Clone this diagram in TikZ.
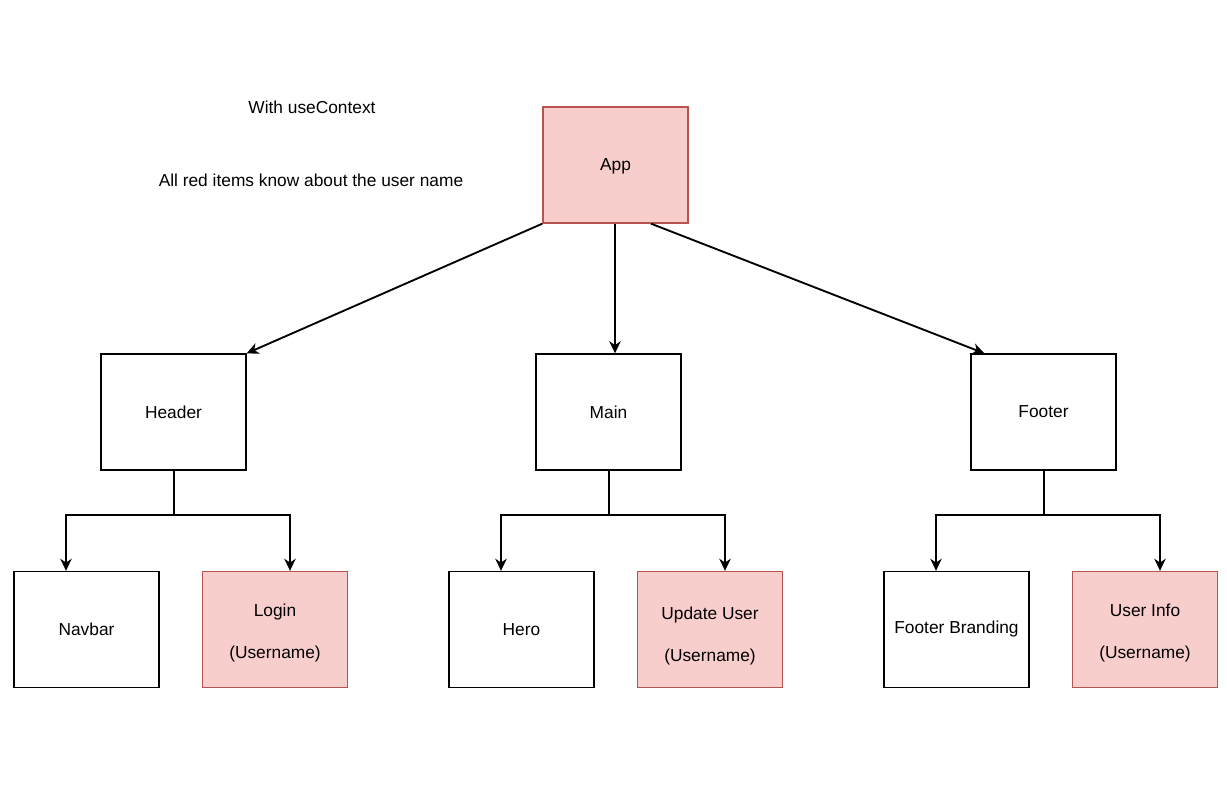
\documentclass[tikz,border=0pt]{standalone}
\usepackage{fontspec}
\setmainfont{Liberation Sans}
\usetikzlibrary{arrows.meta,calc}
\definecolor{redfill}{HTML}{F8CECC}
\definecolor{redline}{HTML}{B85450}
\tikzset{
  box/.style={draw=black, line width=1pt, fill=white, minimum width=108.75pt,
    minimum height=87pt, inner sep=0pt, align=center,
    font=\fontsize{13}{15.6}\selectfont},
  redbox/.style={box, draw=redline, fill=redfill},
  arr/.style={line width=1.4pt, -{Stealth[length=9pt,width=8.5pt,inset=2.8pt]}},
  stem/.style={line width=1.4pt},
  note/.style={font=\fontsize{13}{15.6}\selectfont, inner sep=0pt},
}
\newcommand{\topgap}[1]{\rule{0pt}{#1}}
\begin{document}
\begin{tikzpicture}[x=0.75pt,y=-0.75pt]
\useasboundingbox (0,0) rectangle (1227,805);

% notes
\node[note] (t1) at (312,107) {With useContext};
\node[note] (t2) at (311,180) {All red items know about the user name};

% top level
\node[redbox, text depth=0pt] (app) at (615.5,165) {App};

% second level
\node[box] (header) at (173.5,412) {Header};
\node[box] (main) at (608.5,412) {Main};
\node[box] (footer) at (1043.5,412) {Footer};

% leaves
\node[box] (navbar) at (86.5,629.5) {Navbar};
\node[redbox] (login) at (275,629.5) {\topgap{15pt}Login\\[16pt](Username)};
\node[box] (hero) at (521.5,629.5) {Hero};
\node[redbox] (update) at (710,629.5) {\topgap{19.5pt}Update User\\[16pt](Username)};
\node[box] (branding) at (956.5,629.5) {Footer Branding};
\node[redbox] (userinfo) at (1145,629.5) {\topgap{15pt}User Info\\[16pt](Username)};

% App to second level
\coordinate (app-out) at ($(app.south)+(-0.5,0)$);
\draw[arr] (app.south west) -- (header.north east);
\draw[arr] (app-out) -- (app-out |- main.north);
\draw[arr] ($(app.south)+(35.5,0)$) -- ($(footer.north west)+(14,0)$);

% second level to leaves
\foreach \p/\l/\r in {header/navbar/login, main/hero/update, footer/branding/userinfo}{
  \coordinate (\p-out) at ($(\p.south)+(0.5,0)$);
  \coordinate (\p-split) at ($(\p-out)+(0,44)$);
  \draw[stem] (\p-out) -- (\p-split);
  \draw[arr] (\p-split) -| ($(\l.north)+(-20.5,0)$);
  \draw[arr] (\p-split) -| ($(\r.north)+(15,0)$);
}
\end{tikzpicture}
\end{document}
